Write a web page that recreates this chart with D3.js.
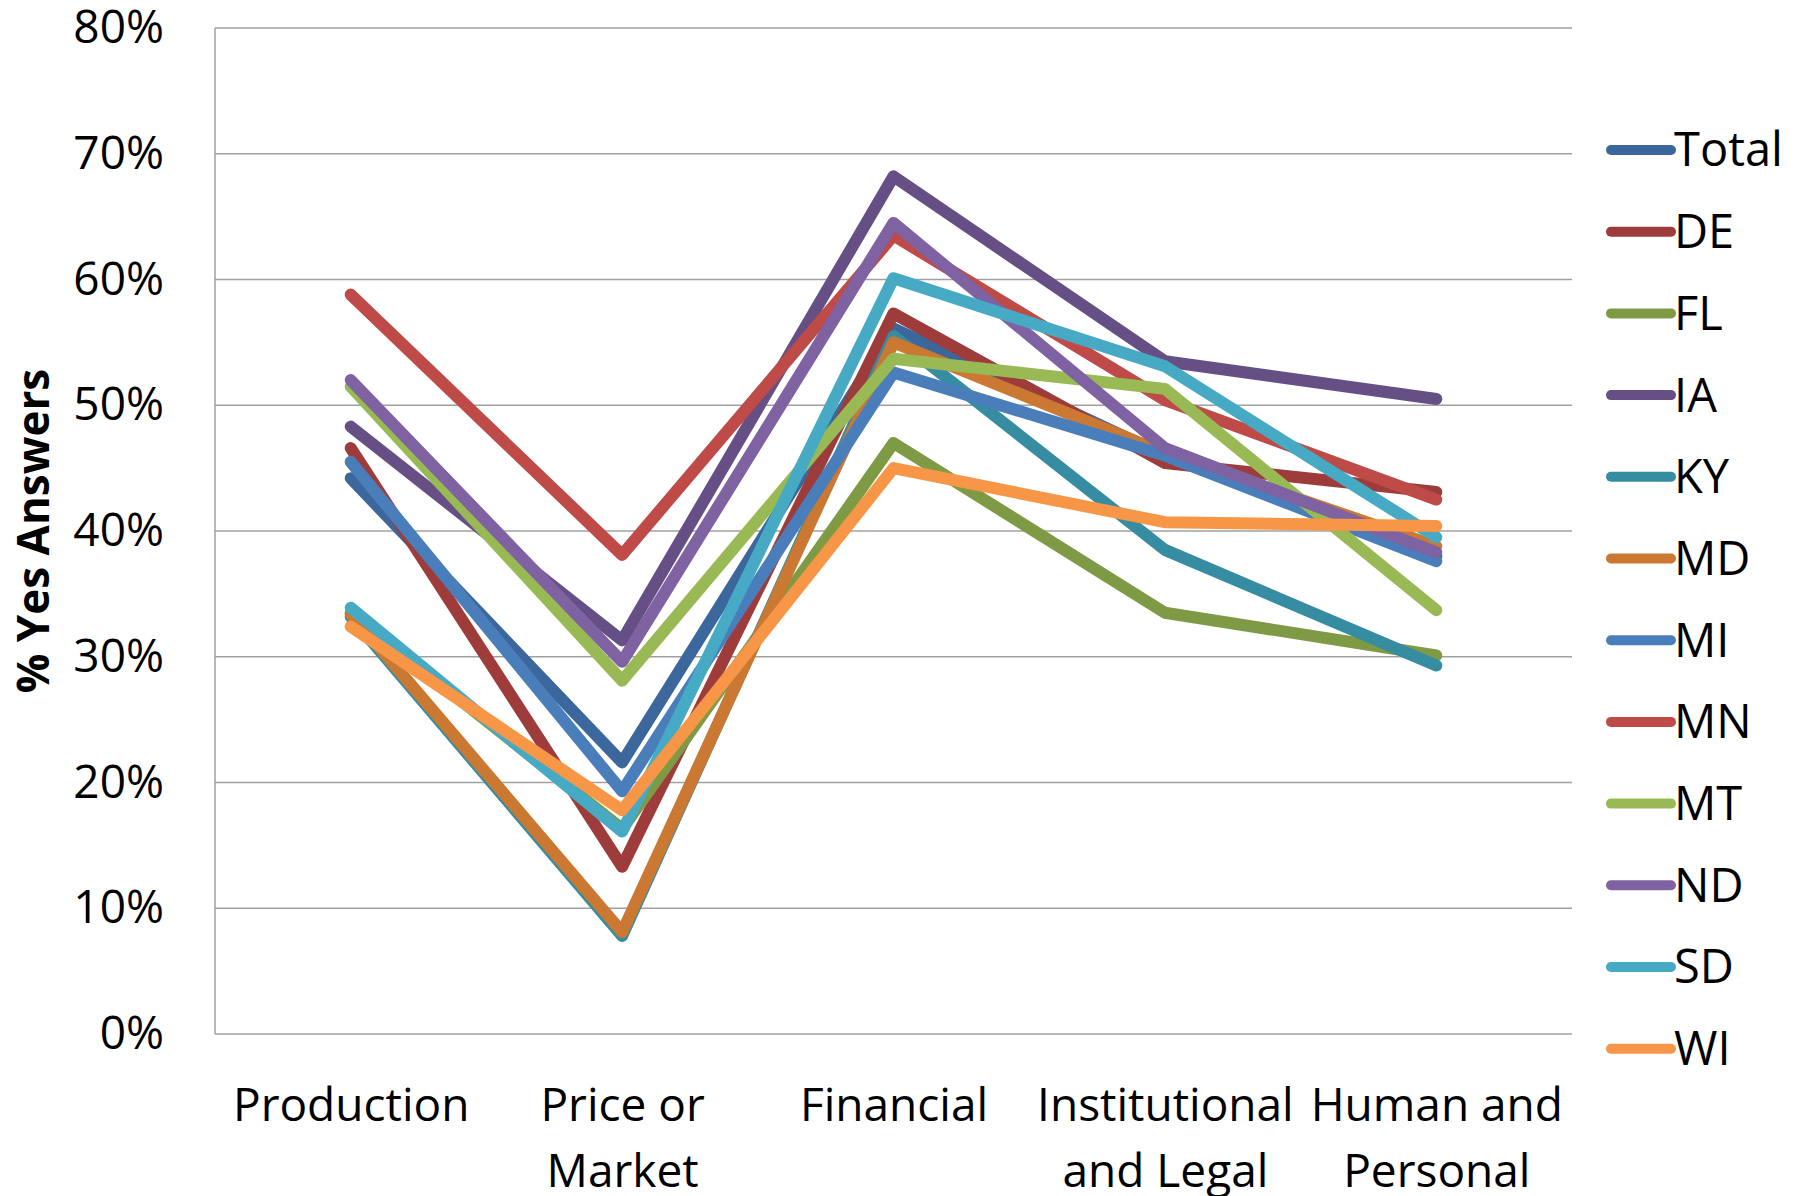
<!DOCTYPE html>
<html>
<head>
<meta charset="utf-8">
<script src="https://cdn.jsdelivr.net/npm/d3@7"></script>
<style>
  body { margin: 0; background: #fff; }
  text { font-family: "Open Sans", sans-serif; fill: #000; }
</style>
</head>
<body>
<div id="chart"></div>
<script>
// categories on the x axis, and how each label breaks into lines
const categories = ["Production", "Price or Market", "Financial", "Institutional and Legal", "Human and Personal"];
const categoryLines = [["Production"], ["Price or", "Market"], ["Financial"], ["Institutional", "and Legal"], ["Human and", "Personal"]];

// series names (legend order) and share of yes answers per category
const seriesNames = ["Total", "DE", "FL", "IA", "KY", "MD", "MI", "MN", "MT", "ND", "SD", "WI"];
const total = [0.442, 0.216, 0.561, 0.460, 0.380];
const de    = [0.466, 0.133, 0.573, 0.454, 0.431];
const fl    = [0.335, 0.163, 0.470, 0.335, 0.301];
const ia    = [0.483, 0.313, 0.682, 0.535, 0.505];
const ky    = [0.332, 0.078, 0.555, 0.385, 0.293];
const md    = [0.334, 0.081, 0.550, 0.462, 0.388];
const mi    = [0.455, 0.193, 0.526, 0.460, 0.376];
const mn    = [0.588, 0.381, 0.635, 0.504, 0.425];
const mt    = [0.515, 0.281, 0.537, 0.513, 0.337];
const nd    = [0.520, 0.296, 0.645, 0.466, 0.383];
const sd    = [0.339, 0.161, 0.601, 0.531, 0.395];
const wi    = [0.324, 0.178, 0.450, 0.407, 0.404];
const seriesValues = [total, de, fl, ia, ky, md, mi, mn, mt, nd, sd, wi];

const yTicks = [0, 0.1, 0.2, 0.3, 0.4, 0.5, 0.6, 0.7, 0.8];

const colors = ["#3b679c", "#9d3c3a", "#7f9a44", "#654f85", "#368ca1", "#cb7832",
                "#4a7ebb", "#be4b48", "#98b954", "#7e62a1", "#46aac5", "#f79646"];

const width = 1802, height = 1196;
const plot = { left: 215, right: 1572, top: 28, bottom: 1034 };

const svg = d3.select("#chart")
    .append("svg")
    .attr("width", width)
    .attr("height", height);

svg.append("rect").attr("width", width).attr("height", height).attr("fill", "#fff");

const xScale = d3.scalePoint()
    .domain(categories)
    .range([plot.left, plot.right])
    .padding(0.5);

const yScale = d3.scaleLinear()
    .domain([0, 0.8])
    .range([plot.bottom, plot.top]);

// gridlines
svg.append("g")
    .selectAll("line")
    .data(yTicks)
    .join("line")
        .attr("x1", plot.left)
        .attr("x2", plot.right)
        .attr("y1", d => yScale(d))
        .attr("y2", d => yScale(d))
        .attr("stroke", "#a0a0a0")
        .attr("stroke-width", 1.5);

// left axis line
svg.append("line")
    .attr("x1", plot.left).attr("x2", plot.left)
    .attr("y1", plot.top).attr("y2", plot.bottom)
    .attr("stroke", "#a0a0a0")
    .attr("stroke-width", 1.5);

// y axis labels
const yAxis = svg.append("g")
    .attr("transform", `translate(${plot.left},0)`)
    .call(d3.axisLeft(yScale).tickValues(yTicks).tickFormat(d3.format(".0%")).tickSize(0).tickPadding(51));
yAxis.select(".domain").remove();
yAxis.selectAll("text")
    .style("font-family", "'Open Sans', sans-serif")
    .style("font-size", "46px")
    .attr("fill", "#000");

// x axis labels, broken into lines
const xAxis = svg.append("g")
    .attr("transform", `translate(0,${plot.bottom})`)
    .call(d3.axisBottom(xScale).tickSize(0));
xAxis.select(".domain").remove();
xAxis.selectAll("text")
    .style("font-family", "'Open Sans', sans-serif")
    .style("font-size", "46px")
    .attr("fill", "#000")
    .attr("y", 0)
    .attr("dy", null)
    .text(null)
    .each(function(d, i) {
        d3.select(this).selectAll("tspan")
            .data(categoryLines[i])
            .join("tspan")
                .attr("x", 0)
                .attr("y", (t, j) => 87 + j * 66)
                .text(t => t);
    });

// y axis title
svg.append("text")
    .attr("transform", `translate(49,531) rotate(-90)`)
    .attr("text-anchor", "middle")
    .style("font-size", "44px")
    .style("font-weight", "bold")
    .text("% Yes Answers");

// the lines, drawn in legend order so the last series sits on top
const line = d3.line()
    .x((d, i) => xScale(categories[i]))
    .y(d => yScale(d));

svg.append("g")
    .selectAll("path")
    .data(seriesValues)
    .join("path")
        .attr("d", d => line(d))
        .attr("fill", "none")
        .attr("stroke", (d, i) => colors[i])
        .attr("stroke-width", 12)
        .attr("stroke-linejoin", "round")
        .attr("stroke-linecap", "round");

// legend
const legend = svg.append("g")
    .selectAll("g")
    .data(seriesNames)
    .join("g")
        .attr("transform", (d, i) => `translate(1611,${150 + i * 81.7})`);

legend.append("line")
    .attr("x1", 0).attr("x2", 60)
    .attr("stroke", (d, i) => colors[i])
    .attr("stroke-width", 10)
    .attr("stroke-linecap", "round");

legend.append("text")
    .attr("x", 63)
    .attr("dy", "0.35em")
    .style("font-size", "47px")
    .text(d => d);
</script>
</body>
</html>
